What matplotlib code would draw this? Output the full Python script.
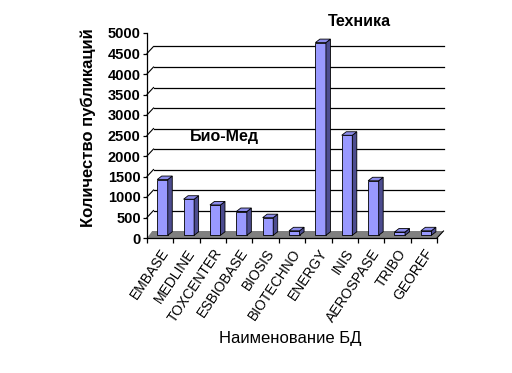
import matplotlib
matplotlib.use("Agg")
import matplotlib.pyplot as plt
from matplotlib.patches import Polygon
import numpy as np

categories = ["EMBASE", "MEDLINE", "TOXCENTER", "ESBIOBASE", "BIOSIS", "BIOTECHNO",
              "ENERGY", "INIS", "AEROSPASE", "TRIBO", "GEOREF"]
values = [1360, 880, 740, 580, 430, 110, 4700, 2440, 1330, 80, 110]
y_ticks = [0, 500, 1000, 1500, 2000, 2500, 3000, 3500, 4000, 4500, 5000]

plt.rcParams['font.family'] = ['Liberation Sans', 'DejaVu Sans']

W, H = 512, 373
fig = plt.figure(figsize=(W / 100, H / 100), dpi=100)
fig.patch.set_facecolor('white')

ax_l, ax_r, ax_t, ax_b = 147, 437, 33, 238
ax = fig.add_axes([ax_l / W, 1 - ax_b / H, (ax_r - ax_l) / W, (ax_b - ax_t) / H])
n = len(categories)
ymax = 5000
ax.set_xlim(0, n)
ax.set_ylim(0, ymax)
ax.patch.set_visible(False)

pxx = (ax_r - ax_l) / n          # pixels per x data unit
pxy = (ax_b - ax_t) / ymax       # pixels per y data unit

def off(dxp, dyp):
    return dxp / pxx, dyp / pxy

# depth of walls (pixels)
wdx, wdy = off(6.5, 7)

# floor
floor = Polygon([(0, 0), (n, 0), (n + wdx, wdy), (0 + wdx * 0.8, wdy)],
                closed=True, facecolor='#808080', edgecolor='none', clip_on=False, zorder=1)
ax.add_patch(floor)
ax.plot([n, n + wdx], [0, wdy], color='black', lw=0.8, clip_on=False, zorder=2)

# gridlines on back wall + side wall connectors
for v in y_ticks[1:-1]:
    ax.plot([wdx, n + wdx], [v + wdy, v + wdy], color='black', lw=0.9, clip_on=False, zorder=1)
for v in y_ticks[1:-1]:
    ax.plot([0, wdx], [v, v + wdy], color='black', lw=0.8, clip_on=False, zorder=1)

# bars (3D look)
fdx, fdy = off(2.3, 2.7)      # front face shift
bdx, bdy = off(4.5, 3.5)      # bar depth
bw = 0.40
front_col = '#9999FF'
side_col = '#4C4C8F'
top_col = '#8C8CEB'
xs = np.arange(n) + 0.5
ax.bar(xs + fdx, values, width=bw, bottom=fdy, color=front_col, edgecolor='black',
       linewidth=0.6, zorder=3, clip_on=False)
for x, v in zip(xs, values):
    x0 = x + fdx - bw / 2
    x1 = x + fdx + bw / 2
    y0 = fdy
    y1 = fdy + v
    side = Polygon([(x1, y0), (x1 + bdx, y0 + bdy), (x1 + bdx, y1 + bdy), (x1, y1)],
                   closed=True, facecolor=side_col, edgecolor='black', lw=0.6, zorder=3, clip_on=False)
    top = Polygon([(x0, y1), (x1, y1), (x1 + bdx, y1 + bdy), (x0 + bdx, y1 + bdy)],
                  closed=True, facecolor=top_col, edgecolor='black', lw=0.6, zorder=3, clip_on=False)
    ax.add_patch(side)
    ax.add_patch(top)

# axes styling
for s in ['top', 'right']:
    ax.spines[s].set_visible(False)
ax.spines['left'].set_linewidth(0.9)
ax.spines['bottom'].set_linewidth(0.9)
ax.spines['left'].set_zorder(4)
ax.spines['bottom'].set_zorder(4)

ax.set_yticks(y_ticks)
ax.set_yticklabels([str(t) for t in y_ticks])
ax.tick_params(axis='y', direction='out', length=3, width=0.9, pad=1.5,
               labelsize=10.5, labelcolor='black')
for lbl in ax.get_yticklabels():
    lbl.set_fontweight('bold')

ax.set_xticks(np.arange(n + 1))
ax.set_xticklabels([])
ax.tick_params(axis='x', which='major', direction='out', length=3.5, width=0.9)
ax.set_xticks(xs, minor=True)
ax.set_xticklabels(categories, minor=True, rotation=56, ha='right',
                   rotation_mode='anchor', fontsize=10)
ax.tick_params(axis='x', which='minor', length=0, pad=6)

# titles / annotations
fig.text(88 / W, 1 - 128 / H, "Количество публикаций", rotation=90, ha='center', va='center',
         fontsize=12, fontweight='bold')
fig.text(290 / W, 1 - 339 / H, "Наименование БД", ha='center', va='center', fontsize=12)
fig.text(359 / W, 1 - 22 / H, "Техника", ha='center', va='center', fontsize=11.5, fontweight='bold')
fig.text(224 / W, 1 - 136 / H, "Био-Мед", ha='center', va='center', fontsize=11.5, fontweight='bold')

fig.savefig("out.png", dpi=100)
